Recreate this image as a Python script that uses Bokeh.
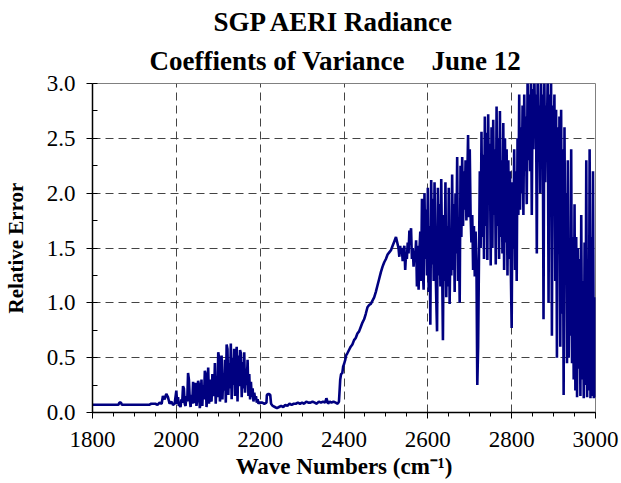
from bokeh.plotting import figure
from bokeh.models import Range1d, Title, NumeralTickFormatter, SingleIntervalTicker
from bokeh.embed import file_html
from bokeh.resources import INLINE

# ---- data ----
# baseline region 1800-2000 cm-1
wn_base = [1800, 1862, 1864, 1868, 1870, 1935, 1940, 1950, 1955, 1960, 1965, 1968,
           1972, 1976, 1980, 1984, 1988, 1992, 1996]
err_base = [0.07, 0.07, 0.09, 0.09, 0.07, 0.07, 0.08, 0.08, 0.07, 0.09, 0.08, 0.15,
            0.12, 0.17, 0.14, 0.08, 0.10, 0.07, 0.08]

# noisy band 2000-2200 cm-1
wn_band1 = list(range(2000, 2200, 2))
err_band1 = [0.20, 0.08, 0.14, 0.06, 0.07, 0.05, 0.12, 0.09, 0.24, 0.22,
             0.08, 0.06, 0.15, 0.10, 0.36, 0.30, 0.12, 0.05, 0.16, 0.08,
             0.28, 0.10, 0.09, 0.27, 0.06, 0.12, 0.29, 0.25, 0.04, 0.10,
             0.30, 0.06, 0.25, 0.12, 0.38, 0.35, 0.05, 0.14, 0.41, 0.08,
             0.30, 0.12, 0.10, 0.35, 0.27, 0.15, 0.45, 0.08, 0.33, 0.14,
             0.55, 0.50, 0.10, 0.18, 0.52, 0.12, 0.36, 0.20, 0.48, 0.09,
             0.62, 0.58, 0.16, 0.45, 0.22, 0.63, 0.12, 0.50, 0.25, 0.58,
             0.15, 0.44, 0.60, 0.10, 0.52, 0.24, 0.57, 0.54, 0.14, 0.46,
             0.22, 0.55, 0.18, 0.40, 0.25, 0.48, 0.15, 0.35, 0.12, 0.28,
             0.14, 0.22, 0.10, 0.18, 0.12, 0.15, 0.09, 0.12, 0.08, 0.09]

# quiet region 2200-2390 cm-1
wn_quiet = [2200, 2205, 2210, 2215, 2216, 2220, 2224, 2226, 2230, 2235, 2240, 2245, 2250,
            2255, 2260, 2265, 2270, 2275, 2280, 2285, 2290, 2295, 2300, 2305, 2310,
            2315, 2320, 2325, 2330, 2335, 2340, 2345, 2350, 2355, 2358, 2362, 2366,
            2370, 2375, 2380, 2385, 2388]
err_quiet = [0.09, 0.09, 0.08, 0.09, 0.16, 0.17, 0.16, 0.08, 0.06, 0.05, 0.04, 0.05, 0.06,
             0.05, 0.07, 0.06, 0.08, 0.07, 0.08, 0.08, 0.09, 0.08, 0.09, 0.08, 0.10,
             0.09, 0.09, 0.10, 0.09, 0.08, 0.10, 0.09, 0.10, 0.09, 0.13, 0.08, 0.10,
             0.09, 0.10, 0.09, 0.08, 0.10]

# rising edge 2390-2580 cm-1
wn_rise = [2391, 2393, 2396, 2398, 2400, 2403, 2405, 2408, 2412, 2416, 2420, 2424,
           2428, 2432, 2436, 2440, 2444, 2448, 2452, 2456, 2460, 2464, 2468, 2472,
           2476, 2480, 2484, 2488, 2492, 2496, 2500, 2504, 2508, 2512, 2516, 2520,
           2524, 2527, 2530, 2532, 2534, 2536, 2538, 2540, 2542, 2544, 2546, 2548,
           2550, 2552, 2554, 2556, 2558, 2560, 2562, 2564, 2566, 2568, 2570, 2572,
           2574, 2576, 2578, 2580]
err_rise = [0.30, 0.35, 0.36, 0.42, 0.44, 0.48, 0.52, 0.54, 0.57, 0.60, 0.62, 0.66,
            0.68, 0.72, 0.74, 0.78, 0.82, 0.85, 0.90, 0.96, 0.98, 0.99, 1.02, 1.05,
            1.10, 1.16, 1.22, 1.28, 1.33, 1.37, 1.40, 1.44, 1.46, 1.48, 1.52, 1.56,
            1.60, 1.55, 1.50, 1.42, 1.52, 1.45, 1.50, 1.38, 1.48, 1.52, 1.30, 1.45,
            1.40, 1.55, 1.45, 1.66, 1.62, 1.68, 1.40, 1.50, 1.33, 1.46, 1.42, 1.57,
            1.15, 1.52, 1.12, 1.48]

# noisy region 2582-2804 cm-1
wn_band2 = list(range(2582, 2806, 2))
err_band2 = [1.65, 1.20, 1.95, 1.30, 1.12, 2.00, 1.40, 1.85, 1.25, 2.05,
             1.10, 1.70, 0.80, 2.12, 1.35, 1.95, 1.20, 2.10, 1.45, 1.05,
             0.74, 2.05, 1.25, 1.90, 1.15, 2.13, 1.40, 0.66, 1.80, 1.20,
             2.10, 1.05, 1.70, 1.15, 2.05, 0.99, 1.60, 1.25, 2.17, 1.30,
             1.90, 1.10, 2.00, 1.45, 2.33, 1.20, 1.75, 1.00, 2.25, 1.60,
             2.33, 1.70, 2.20, 1.85, 2.30, 1.75, 2.10, 2.53, 1.78, 2.40,
             1.80, 1.55, 1.80, 1.30, 1.70, 1.24, 1.65, 1.35, 0.25, 0.60,
             1.40, 2.20, 1.50, 2.56, 1.60, 2.35, 1.40, 2.70, 1.70, 2.55,
             1.39, 2.72, 1.90, 2.45, 1.34, 2.60, 1.50, 2.67, 1.80, 2.40,
             1.35, 2.79, 1.70, 2.50, 1.40, 2.75, 1.60, 2.30, 1.45, 2.64,
             1.30, 2.50, 1.55, 2.40, 1.25, 2.30, 1.40, 2.20, 1.30, 0.77,
             2.10, 1.50]

# noisy region 2806-3000 cm-1
wn_band3 = list(range(2806, 3002, 2))
err_band3 = [2.40, 1.30, 2.20, 1.20, 2.50, 1.80, 2.90, 1.85, 2.60, 2.00,
             2.80, 1.80, 2.90, 2.20, 2.70, 1.90, 3.05, 2.30, 2.90, 2.20,
             3.10, 1.80, 2.95, 2.40, 3.10, 2.60, 2.90, 1.45, 3.10, 2.50,
             2.80, 2.00, 3.10, 2.40, 2.90, 0.85, 3.05, 2.10, 2.80, 2.50,
             3.10, 1.00, 2.90, 2.20, 3.05, 0.70, 2.80, 2.40, 2.90, 1.20,
             2.76, 0.50, 2.60, 1.50, 2.70, 0.60, 2.76, 0.90, 2.40, 0.16,
             2.60, 1.20, 2.00, 0.45, 2.30, 0.50, 1.50, 0.70, 2.40, 0.45,
             1.60, 0.30, 1.90, 0.20, 1.60, 0.14, 1.50, 0.40, 1.40, 0.15,
             1.80, 0.30, 1.20, 0.13, 1.55, 0.25, 2.30, 0.14, 1.40, 0.20,
             2.40, 0.13, 1.60, 0.15, 2.20, 0.13, 1.05, 0.14]

wn = wn_base + wn_band1 + wn_quiet + wn_rise + wn_band2 + wn_band3
err = err_base + err_band1 + err_quiet + err_rise + err_band2 + err_band3

SERIF = "Liberation Serif"

p = figure(width=621, height=483, output_backend="svg", toolbar_location=None,
           x_range=Range1d(1800, 3000), y_range=Range1d(0, 3.0),
           min_border_left=91, min_border_right=26, min_border_top=83,
           min_border_bottom=71, background_fill_color="white",
           border_fill_color="white")

p.add_layout(Title(text="Coeffients of Variance\u00a0\u00a0\u00a0 June 12", align="left",
                   text_font=SERIF, text_font_size="27px", text_font_style="bold",
                   text_color="black", offset=57, standoff=15), "above")
p.add_layout(Title(text="SGP AERI Radiance", align="left",
                   text_font=SERIF, text_font_size="27px", text_font_style="bold",
                   text_color="black", offset=121, standoff=0), "above")

p.line(wn, err, line_color="#000080", line_width=2.6)

p.outline_line_color = "#808080"
p.outline_line_width = 1

xa = p.xaxis[0]
xa.ticker = SingleIntervalTicker(interval=200, num_minor_ticks=4)
xa.axis_label = "Wave Numbers (cm\u207b\u00b9)"
ya = p.yaxis[0]
ya.ticker = SingleIntervalTicker(interval=0.5, num_minor_ticks=2)
ya.formatter = NumeralTickFormatter(format="0.0")
ya.axis_label = "Relative Error"

for ax in (xa, ya):
    ax.axis_line_color = "black"
    ax.axis_line_width = 1.5
    ax.major_tick_line_color = "black"
    ax.minor_tick_line_color = "black"
    ax.major_label_text_font = SERIF
    ax.major_label_text_font_size = "23px"
    ax.major_label_text_color = "black"
    ax.axis_label_text_font = SERIF
    ax.axis_label_text_font_style = "bold"
    ax.axis_label_text_color = "black"
    ax.major_tick_out = 6
    ax.major_tick_in = 0

xa.minor_tick_out = 4
xa.minor_tick_in = 0
xa.major_label_standoff = 13
xa.axis_label_text_font_size = "23px"
xa.axis_label_standoff = 4

ya.minor_tick_in = 5
ya.minor_tick_out = 0
ya.major_label_standoff = 11
ya.axis_label_text_font_size = "21px"
ya.axis_label_standoff = 16

for g in (p.xgrid[0], p.ygrid[0]):
    g.grid_line_color = "#444444"
    g.grid_line_dash = "8 5"
    g.grid_line_width = 1

open("out.html", "w").write(file_html(p, INLINE))
